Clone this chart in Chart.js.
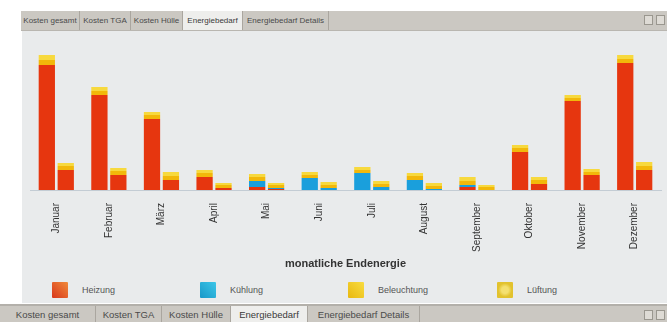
<!DOCTYPE html>
<html lang="de">
<head>
<meta charset="utf-8">
<script src="https://cdn.jsdelivr.net/npm/chart.js@4.4.1/dist/chart.umd.min.js"></script>
<style>
    html, body { margin: 0; padding: 0; }
    body { width: 667px; height: 322px; background: #fff; position: relative; overflow: hidden; font-family: "Liberation Sans", Arial, sans-serif; }
    .tabs { position: absolute; display: flex; background: #cbc8c2; border-bottom: 1px solid #b9b6b0; box-sizing: border-box; }
    .tabs span { display: block; color: #4a4a4a; white-space: nowrap; border-right: 1px solid #aaa69f; box-sizing: border-box; text-align: center; }
    .tabs span.active { background: #eeeeec; color: #3a3a3a; }
    #tabs-top { left: 21px; top: 11px; width: 646px; height: 20px; font-size: 8px; line-height: 19px; }
    #tabs-bottom { left: 0; top: 304px; width: 667px; height: 18px; font-size: 9.5px; line-height: 18px; border-top: 2px solid #b3b0aa; border-bottom: none; }
    .win { position: absolute; right: 2px; top: 4px; display: flex; gap: 3px; }
    .win i { display: block; width: 7px; height: 8px; border: 1px solid #9a978f; background: #dedbd5; }
    #panel { position: absolute; left: 22px; top: 31px; width: 645px; height: 272px; background: #e9ebec; }
    #chart-box { position: absolute; left: 0; top: 0; width: 645px; height: 244px; }
    .legend { position: absolute; top: 251px; left: 0; width: 645px; height: 18px; }
    .legend .item { position: absolute; top: 0; display: flex; align-items: center; font-size: 9px; color: #555; }
    .legend .box { width: 16px; height: 16px; margin-right: 14px; border-radius: 1px; }
</style>
</head>
<body>
<div id="tabs-top" class="tabs">
    <span style="width:59px">Kosten gesamt</span>
    <span style="width:51px">Kosten TGA</span>
    <span style="width:52px">Kosten Hülle</span>
    <span class="active" style="width:60px">Energiebedarf</span>
    <span style="width:86px">Energiebedarf Details</span>
    <div class="win"><i></i><i></i></div>
</div>

<div id="panel">
    <div id="chart-box"><canvas id="energy-chart"></canvas></div>
    <div class="legend" id="legend"></div>
</div>

<div id="tabs-bottom" class="tabs">
    <span style="width:96px">Kosten gesamt</span>
    <span style="width:66px">Kosten TGA</span>
    <span style="width:69px">Kosten Hülle</span>
    <span class="active" style="width:77px">Energiebedarf</span>
    <span style="width:112px">Energiebedarf Details</span>
    <div class="win"><i></i><i></i></div>
</div>

<script>
// Monate
const months = ['Januar', 'Februar', 'März', 'April', 'Mai', 'Juni', 'Juli', 'August', 'September', 'Oktober', 'November', 'Dezember'];

// Variante A (linker Balken je Monat)
const heizungA     = [125, 95, 71, 13, 3, 0, 0, 0, 3, 38, 89, 127];
const kuehlungA    = [0, 0, 0, 0, 6, 12, 17, 10, 2, 0, 0, 0];
const beleuchtungA = [5, 4, 4, 4, 4, 3, 3, 4, 4, 4, 3, 4];
const lueftungA    = [5, 4, 3, 3, 3, 3, 3, 3, 4, 3, 3, 4];

// Variante B (rechter Balken je Monat)
const heizungB     = [20, 15, 10, 2, 1, 0, 0, 0, 0, 6, 15, 20];
const kuehlungB    = [0, 0, 0, 0, 1, 2, 3, 1, 0, 0, 0, 0];
const beleuchtungB = [4, 4, 4, 3, 3, 3, 3, 3, 3, 4, 3, 4];
const lueftungB    = [3, 3, 4, 2, 2, 3, 3, 3, 2, 3, 3, 4];

const yMax = 150;

const series = [
    { label: 'Heizung',     color: '#e6360f', a: heizungA,     b: heizungB,     icon: 'linear-gradient(45deg,#d8361a,#f08a3a)' },
    { label: 'Kühlung',     color: '#1a9fdc', a: kuehlungA,    b: kuehlungB,    icon: 'linear-gradient(45deg,#1898c8,#3cc6e8)' },
    { label: 'Beleuchtung', color: '#f2b80a', a: beleuchtungA, b: beleuchtungB, icon: 'linear-gradient(45deg,#e8b810,#f8dc40)' },
    { label: 'Lüftung',     color: '#f7d93e', a: lueftungA,    b: lueftungB,    icon: 'radial-gradient(circle,#f4e070 30%,#e2c22e 60%)' }
];

const datasets = [];
series.forEach(s => {
    datasets.push({ label: s.label, data: s.a, backgroundColor: s.color, stack: 'A' });
    datasets.push({ label: s.label, data: s.b, backgroundColor: s.color, stack: 'B' });
});

new Chart(document.getElementById('energy-chart'), {
    type: 'bar',
    data: { labels: months, datasets },
    options: {
        responsive: true,
        maintainAspectRatio: false,
        animation: false,
        layout: { padding: { left: 8, right: 6, top: 9, bottom: 0 } },
        datasets: { bar: { categoryPercentage: 0.72, barPercentage: 0.86 } },
        plugins: { legend: { display: false }, tooltip: { enabled: false } },
        scales: {
            x: {
                stacked: true,
                grid: { display: false, drawTicks: false },
                border: { display: true, color: '#c3ccd4', width: 1 },
                ticks: {
                    autoSkip: false,
                    minRotation: 90,
                    maxRotation: 90,
                    padding: 13,
                    color: '#333',
                    font: { family: 'Liberation Sans', size: 10 }
                },
                title: {
                    display: true,
                    text: 'monatliche Endenergie',
                    color: '#333',
                    font: { family: 'Liberation Sans', size: 11, weight: 'bold' },
                    padding: { top: 0, bottom: 4 }
                },
                afterFit: scale => { scale.height = 85; }
            },
            y: {
                stacked: true,
                display: false,
                min: 0,
                max: yMax
            }
        }
    }
});

// Legende
const legendPos = [30, 178, 326, 475];
const legend = document.getElementById('legend');
legend.innerHTML = series.map((s, i) => `
    <div class="item" style="left:${legendPos[i]}px">
        <div class="box" style="background:${s.icon}"></div>${s.label}
    </div>`).join('');
</script>
</body>
</html>
